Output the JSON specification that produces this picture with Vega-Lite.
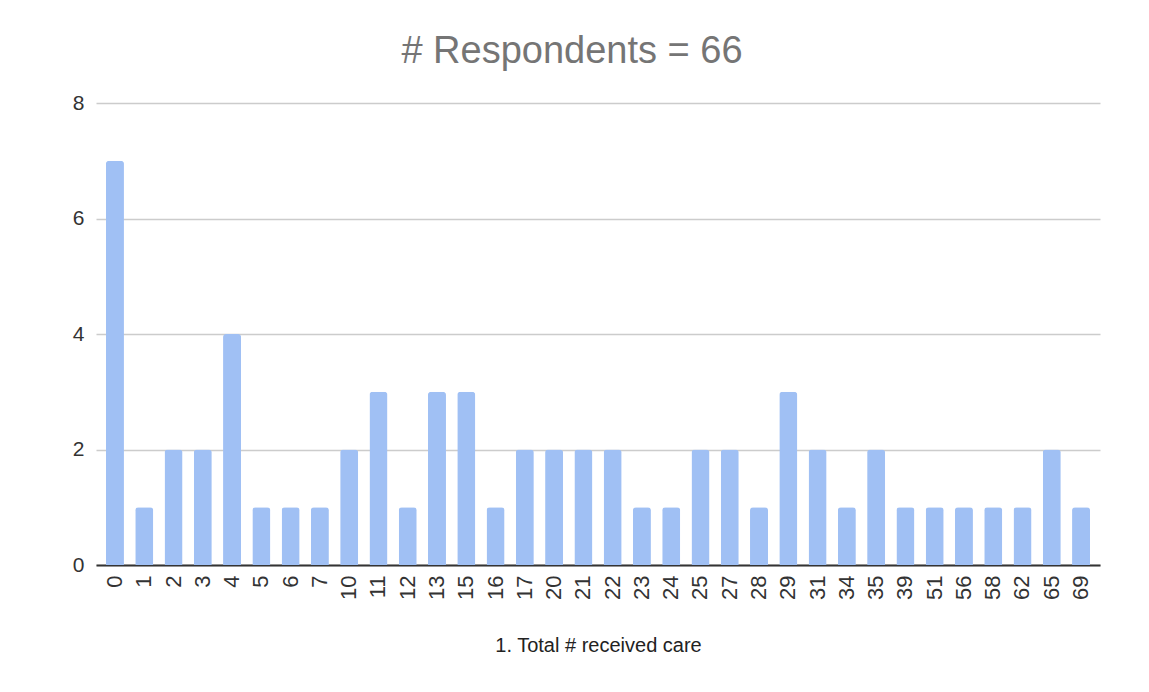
{
  "$schema": "https://vega.github.io/schema/vega-lite/v6.json",
  "autosize": "none",
  "width": 1004,
  "height": 462,
  "padding": {"left": 96, "top": 103, "right": 49, "bottom": 127},
  "background": "white",
  "config": {"view": {"stroke": null}, "font": "Liberation Sans"},
  "title": {
    "text": "# Respondents = 66",
    "fontSize": 38,
    "fontWeight": "normal",
    "color": "#757575",
    "anchor": "middle",
    "baseline": "bottom",
    "offset": 32,
    "dx": -26,
    "dy": 49
  },
  "data": {
    "values": [
      {"care": "0", "count": 7},
      {"care": "1", "count": 1},
      {"care": "2", "count": 2},
      {"care": "3", "count": 2},
      {"care": "4", "count": 4},
      {"care": "5", "count": 1},
      {"care": "6", "count": 1},
      {"care": "7", "count": 1},
      {"care": "10", "count": 2},
      {"care": "11", "count": 3},
      {"care": "12", "count": 1},
      {"care": "13", "count": 3},
      {"care": "15", "count": 3},
      {"care": "16", "count": 1},
      {"care": "17", "count": 2},
      {"care": "20", "count": 2},
      {"care": "21", "count": 2},
      {"care": "22", "count": 2},
      {"care": "23", "count": 1},
      {"care": "24", "count": 1},
      {"care": "25", "count": 2},
      {"care": "27", "count": 2},
      {"care": "28", "count": 1},
      {"care": "29", "count": 3},
      {"care": "31", "count": 2},
      {"care": "34", "count": 1},
      {"care": "35", "count": 2},
      {"care": "39", "count": 1},
      {"care": "51", "count": 1},
      {"care": "56", "count": 1},
      {"care": "58", "count": 1},
      {"care": "62", "count": 1},
      {"care": "65", "count": 2},
      {"care": "69", "count": 1}
    ]
  },
  "mark": {"type": "bar", "color": "#a0c0f4", "cornerRadiusTopLeft": 3, "cornerRadiusTopRight": 3},
  "encoding": {
    "x": {
      "field": "care",
      "type": "ordinal",
      "sort": null,
      "scale": {"paddingInner": 0.385, "paddingOuter": 0.34},
      "axis": {
        "title": "1. Total # received care",
        "titleFontSize": 20,
        "titleFontWeight": "normal",
        "titleColor": "#222222",
        "titlePadding": 36,
        "labelAngle": -90,
        "labelFontSize": 22,
        "labelColor": "#333333",
        "labelPadding": 10,
        "ticks": false,
        "domainColor": "#333333",
        "domainWidth": 2,
        "grid": false
      }
    },
    "y": {
      "field": "count",
      "type": "quantitative",
      "scale": {"domain": [0, 8], "nice": false},
      "axis": {
        "title": null,
        "values": [0, 2, 4, 6, 8],
        "labelFontSize": 21,
        "labelColor": "#333333",
        "labelPadding": 12,
        "ticks": false,
        "domain": false,
        "gridColor": "#cccccc",
        "gridWidth": 1.5
      }
    }
  }
}
